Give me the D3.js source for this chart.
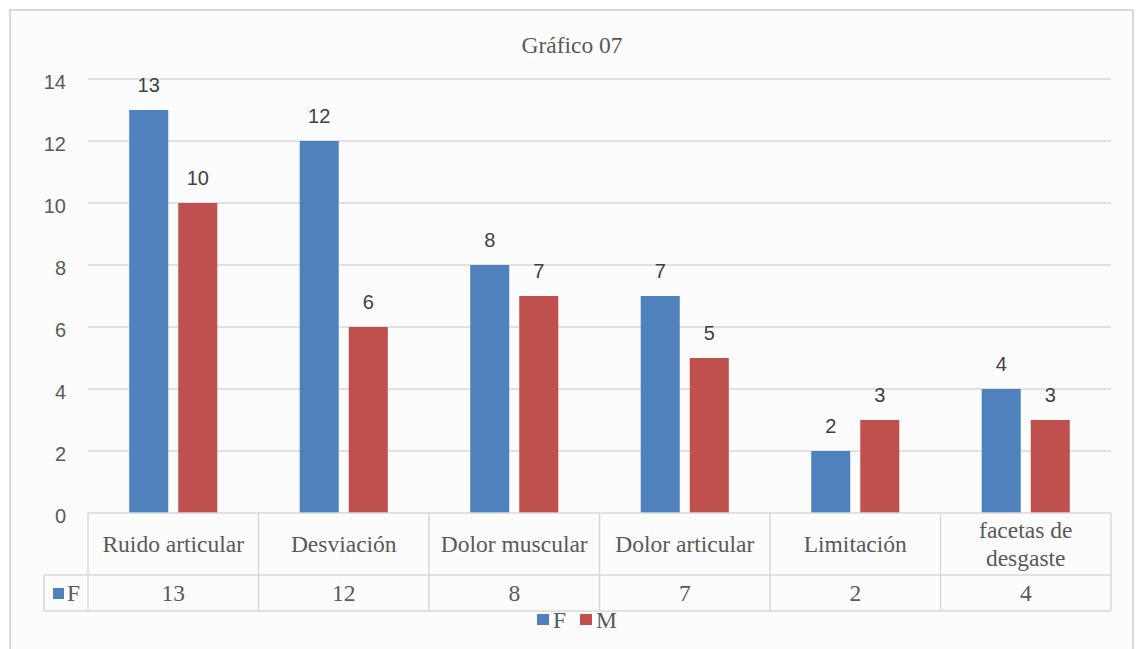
<!DOCTYPE html>
<html><head><meta charset="utf-8">
<script src="https://cdn.jsdelivr.net/npm/d3@7"></script>
<style>
html,body{margin:0;padding:0;background:#ffffff;}
svg{display:block;}
</style></head>
<body>
<svg id="chart" width="1136" height="649"></svg>
<script>
const categories = [["Ruido articular"], ["Desviación"], ["Dolor muscular"], ["Dolor articular"], ["Limitación"], ["facetas de", "desgaste"]];
const seriesNames = ["F", "M"];
const valuesF = [13, 12, 8, 7, 2, 4];
const valuesM = [10, 6, 7, 5, 3, 3];
const yTicks = [0, 2, 4, 6, 8, 10, 12, 14];
const colors = ["#4F81BD", "#C0504D"];
const titleText = "Gráfico 07";

const svg = d3.select("#chart");
const W = 1136, H = 649;
const plot = {left: 88, right: 1111, top: 79, bottom: 513};
const serif = "'Liberation Serif','Times New Roman',serif";
const sans = "'Liberation Sans',Arial,sans-serif";
const serifSize = 23.5;

// chart frame
svg.append("rect").attr("x", 0).attr("y", 0).attr("width", W).attr("height", H).attr("fill", "#ffffff");
svg.append("rect").attr("x", 10).attr("y", 10).attr("width", 1123).attr("height", 660)
  .attr("fill", "#fcfcfc").attr("stroke", "#d9d9d9").attr("stroke-width", 2);

const x0 = d3.scaleBand().domain(d3.range(categories.length)).range([plot.left, plot.right]).paddingInner(0).paddingOuter(0);
const x1 = d3.scaleBand().domain(seriesNames).range([0, x0.bandwidth()]).paddingInner(0.204).paddingOuter(0.84);
const y = d3.scaleLinear().domain([0, 14]).range([plot.bottom, plot.top]);

// gridlines
svg.append("g").selectAll("line").data(yTicks.filter(d => d > 0)).join("line")
  .attr("x1", plot.left).attr("x2", plot.right)
  .attr("y1", d => y(d)).attr("y2", d => y(d))
  .attr("stroke", "#d9d9d9").attr("stroke-width", 1.5);

// y axis labels
const yAxis = d3.axisLeft(y).tickValues(yTicks).tickSize(0).tickPadding(0).tickFormat(d3.format("d"));
const yg = svg.append("g").attr("transform", `translate(66,0)`).call(yAxis);
yg.select(".domain").remove();
yg.selectAll("text").attr("font-family", sans).attr("font-size", 20).attr("fill", "#595959").attr("dy", "0.45em");

// bars
const seriesData = [valuesF, valuesM];
seriesData.forEach((vals, si) => {
  const g = svg.append("g");
  g.selectAll("rect").data(vals).join("rect")
    .attr("x", (d, i) => x0(i) + x1(seriesNames[si]))
    .attr("y", d => y(d))
    .attr("width", x1.bandwidth())
    .attr("height", d => y(0) - y(d))
    .attr("fill", colors[si]);
  g.selectAll("text").data(vals).join("text")
    .attr("x", (d, i) => x0(i) + x1(seriesNames[si]) + x1.bandwidth() / 2)
    .attr("y", d => y(d) - 18)
    .attr("text-anchor", "middle")
    .attr("font-family", sans).attr("font-size", 20).attr("fill", "#404040")
    .text(d => d);
});

// data table
const row1Top = plot.bottom, row1Bot = 575, row2Bot = 611, legendLeft = 44;
const tbl = svg.append("g").attr("stroke", "#d9d9d9").attr("stroke-width", 1.5);
tbl.append("line").attr("x1", plot.left).attr("x2", plot.right).attr("y1", row1Top).attr("y2", row1Top);
tbl.append("line").attr("x1", legendLeft).attr("x2", plot.right).attr("y1", row1Bot).attr("y2", row1Bot);
tbl.append("line").attr("x1", legendLeft).attr("x2", plot.right).attr("y1", row2Bot).attr("y2", row2Bot);
tbl.append("line").attr("x1", legendLeft).attr("x2", legendLeft).attr("y1", row1Bot).attr("y2", row2Bot);
const colEdges = d3.range(categories.length + 1).map(i => i < categories.length ? x0(i) : plot.right);
tbl.selectAll(".v").data(colEdges).join("line")
  .attr("x1", d => d).attr("x2", d => d).attr("y1", row1Top).attr("y2", row2Bot);

// category labels
const catG = svg.append("g");
categories.forEach((lines, i) => {
  const cx = x0(i) + x0.bandwidth() / 2;
  const cy = (row1Top + row1Bot) / 2;
  const lh = 28;
  const t = catG.append("text").attr("x", cx).attr("text-anchor", "middle")
    .attr("font-family", serif).attr("font-size", serifSize).attr("fill", "#595959");
  lines.forEach((ln, li) => {
    t.append("tspan").attr("x", cx)
      .attr("y", cy + (li - (lines.length - 1) / 2) * lh + 8)
      .text(ln);
  });
});

// values row (F)
svg.append("g").selectAll("text").data(valuesF).join("text")
  .attr("x", (d, i) => x0(i) + x0.bandwidth() / 2)
  .attr("y", (row1Bot + row2Bot) / 2 + 8)
  .attr("text-anchor", "middle")
  .attr("font-family", serif).attr("font-size", serifSize).attr("fill", "#595959")
  .text(d => d);
svg.append("rect").attr("x", 53).attr("y", 588).attr("width", 11).attr("height", 11).attr("fill", colors[0]);
svg.append("text").attr("x", 67).attr("y", (row1Bot + row2Bot) / 2 + 8)
  .attr("font-family", serif).attr("font-size", serifSize).attr("fill", "#595959").text(seriesNames[0]);

// title
svg.append("text").attr("x", 572).attr("y", 53).attr("text-anchor", "middle")
  .attr("font-family", serif).attr("font-size", serifSize).attr("fill", "#595959").text(titleText);

// legend
const legendX = [537, 580];
const lg = svg.append("g");
seriesNames.forEach((s, i) => {
  lg.append("rect").attr("x", legendX[i]).attr("y", 614).attr("width", 12).attr("height", 11).attr("fill", colors[i]);
  lg.append("text").attr("x", legendX[i] + 16).attr("y", 628)
    .attr("font-family", serif).attr("font-size", serifSize).attr("fill", "#595959").text(s);
});
</script>
</body></html>
